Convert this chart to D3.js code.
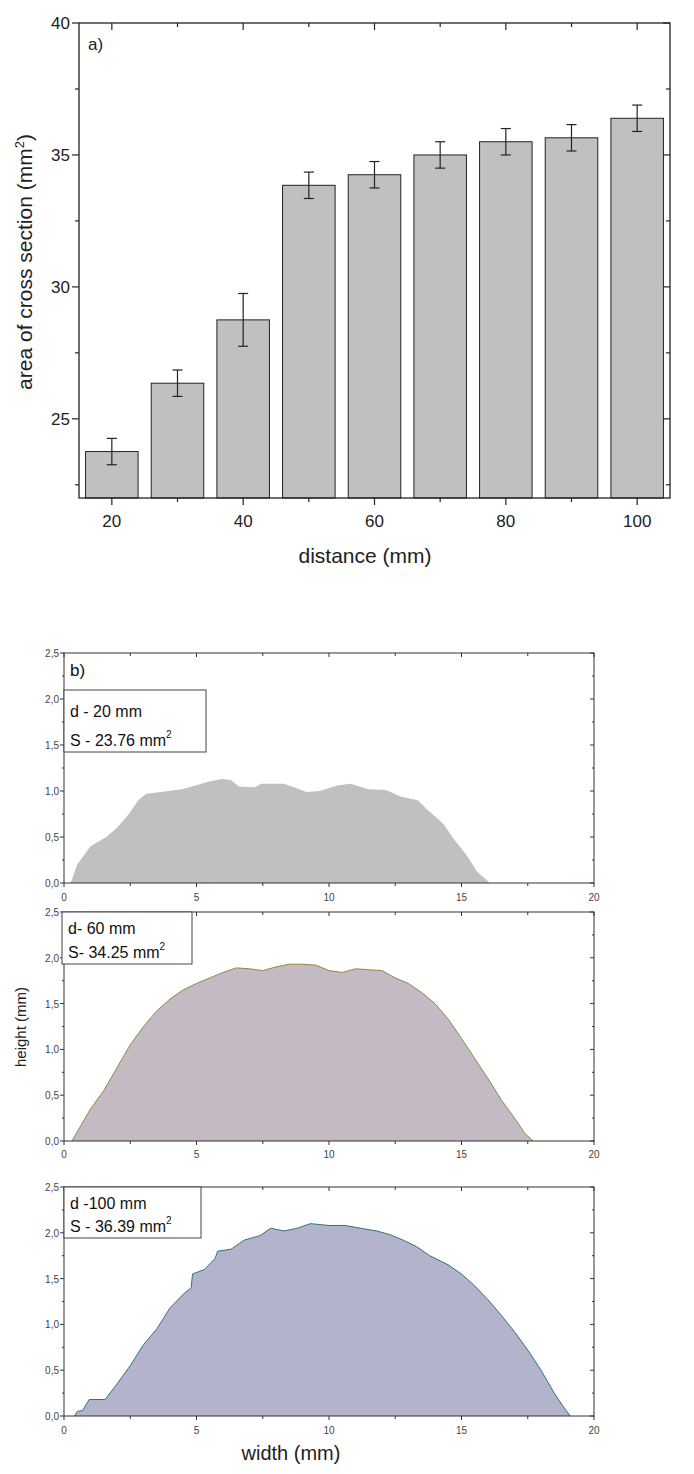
<!DOCTYPE html>
<html>
<head>
<meta charset="utf-8">
<script src="https://cdn.jsdelivr.net/npm/d3@7"></script>
<style>
  body { margin: 0; background: #fff; }
  text { font-family: "Liberation Sans", Arial, sans-serif; }
</style>
</head>
<body>
<svg id="chart" width="694" height="1474"></svg>
<script>
// bar chart data
const distances = [20, 30, 40, 50, 60, 70, 80, 90, 100];
const areas = [23.76, 26.35, 28.75, 33.85, 34.25, 35.0, 35.5, 35.65, 36.39];
const areaErr = [0.5, 0.5, 1.0, 0.5, 0.5, 0.5, 0.5, 0.5, 0.5];

// profile data (width mm, height mm)
const profile20 = [[0.25,0],[0.5,0.2],[1.0,0.4],[1.6,0.5],[2.0,0.6],[2.45,0.75],[2.8,0.9],[3.1,0.97],[3.95,1.0],[4.45,1.02],[4.95,1.06],[5.45,1.1],[5.95,1.13],[6.3,1.12],[6.6,1.05],[7.2,1.04],[7.45,1.08],[8.3,1.08],[8.6,1.05],[9.15,0.99],[9.65,1.0],[10.3,1.06],[10.8,1.08],[11.5,1.02],[12.15,1.01],[12.7,0.94],[13.35,0.9],[13.7,0.8],[14.1,0.7],[14.35,0.63],[14.7,0.48],[15.2,0.3],[15.6,0.12],[16.0,0.02],[16.05,0]];
const profile60 = [[0.3,0],[0.6,0.15],[1.0,0.35],[1.5,0.55],[2.0,0.8],[2.5,1.05],[3.0,1.25],[3.5,1.42],[4.0,1.55],[4.5,1.65],[5.0,1.72],[5.5,1.78],[6.0,1.84],[6.5,1.89],[7.0,1.88],[7.5,1.86],[8.0,1.9],[8.5,1.93],[9.0,1.93],[9.5,1.92],[10.0,1.86],[10.5,1.84],[11.0,1.88],[11.5,1.87],[12.0,1.86],[12.5,1.78],[13.0,1.72],[13.5,1.62],[14.0,1.5],[14.5,1.33],[15.0,1.12],[15.5,0.9],[16.0,0.68],[16.5,0.45],[17.0,0.25],[17.4,0.08],[17.7,0]];
const profile100 = [[0.4,0],[0.5,0.05],[0.7,0.06],[0.95,0.18],[1.55,0.18],[2.0,0.35],[2.5,0.55],[3.0,0.78],[3.5,0.95],[4.0,1.18],[4.5,1.33],[4.8,1.4],[4.85,1.55],[5.3,1.6],[5.7,1.72],[5.8,1.8],[6.3,1.82],[6.8,1.92],[7.4,1.97],[7.8,2.05],[8.3,2.02],[8.8,2.05],[9.3,2.1],[10.0,2.08],[10.6,2.08],[11.2,2.05],[11.8,2.02],[12.3,1.98],[12.8,1.92],[13.3,1.85],[13.8,1.75],[14.5,1.65],[15.0,1.55],[15.5,1.42],[16.0,1.27],[16.5,1.1],[17.0,0.92],[17.5,0.72],[18.0,0.5],[18.5,0.25],[18.8,0.12],[19.1,0]];

const svg = d3.select('#chart');

//---- panel a ----
const a = { l: 79, r: 670, t: 23, b: 498 };
const xA = d3.scaleLinear().domain([15, 105]).range([a.l, a.r]);
const yA = d3.scaleLinear().domain([22, 40]).range([a.b, a.t]);

svg.selectAll('.bar').data(distances).enter().append('rect')
  .attr('x', (d) => xA(d - 4))
  .attr('width', xA(8) - xA(0))
  .attr('y', (d, i) => yA(areas[i]))
  .attr('height', (d, i) => yA(22) - yA(areas[i]))
  .attr('fill', '#c0c0c0').attr('stroke', '#222').attr('stroke-width', 1);

// error bars
const eb = svg.append('g').attr('stroke', '#222').attr('stroke-width', 1.2);
distances.forEach((d, i) => {
  const x = xA(d), y1 = yA(areas[i] + areaErr[i]), y2 = yA(areas[i] - areaErr[i]);
  eb.append('line').attr('x1', x).attr('x2', x).attr('y1', y1).attr('y2', y2);
  eb.append('line').attr('x1', x - 5).attr('x2', x + 5).attr('y1', y1).attr('y2', y1);
  eb.append('line').attr('x1', x - 5).attr('x2', x + 5).attr('y1', y2).attr('y2', y2);
});

// frame
svg.append('rect').attr('x', a.l).attr('y', a.t).attr('width', a.r - a.l).attr('height', a.b - a.t)
  .attr('fill', 'none').attr('stroke', '#222').attr('stroke-width', 1.3);

const xTicksA = d3.range(20, 101, 10);
const yTicksA = d3.range(22.5, 40.1, 2.5);
const tk = svg.append('g').attr('stroke', '#222').attr('stroke-width', 1.2);
xTicksA.forEach(v => {
  const len = v % 20 === 0 ? 7 : 4;
  tk.append('line').attr('x1', xA(v)).attr('x2', xA(v)).attr('y1', a.b).attr('y2', a.b + len);
  tk.append('line').attr('x1', xA(v)).attr('x2', xA(v)).attr('y1', a.t).attr('y2', a.t + len);
});
yTicksA.forEach(v => {
  const len = v % 5 === 0 ? 7 : 4;
  tk.append('line').attr('x1', a.l - len).attr('x2', a.l).attr('y1', yA(v)).attr('y2', yA(v));
  tk.append('line').attr('x1', a.r - len).attr('x2', a.r).attr('y1', yA(v)).attr('y2', yA(v));
});
svg.selectAll('.xla').data(xTicksA.filter(v => v % 20 === 0)).enter().append('text')
  .attr('x', d => xA(d)).attr('y', 527).attr('text-anchor', 'middle')
  .attr('font-size', 17).attr('fill', '#222').text(d => d);
svg.selectAll('.yla').data([25, 30, 35, 40]).enter().append('text')
  .attr('x', a.l - 9).attr('y', d => yA(d) + 6).attr('text-anchor', 'end')
  .attr('font-size', 17).attr('fill', '#222').text(d => d);
svg.append('text').attr('x', 88).attr('y', 50).attr('font-size', 17).attr('fill', '#222').text('a)');
svg.append('text').attr('x', 365).attr('y', 563).attr('text-anchor', 'middle')
  .attr('font-size', 21).attr('fill', '#222').text('distance (mm)');
const yl = svg.append('text').attr('transform', 'translate(32,262) rotate(-90)')
  .attr('text-anchor', 'middle').attr('font-size', 21).attr('fill', '#222');
yl.append('tspan').text('area of cross section (mm');
yl.append('tspan').attr('font-size', 13).attr('dy', -8).text('2');
yl.append('tspan').attr('dy', 8).text(')');

//---- panels b ----
const panels = [
  { top: 653, bottom: 883, data: profile20, fill: '#c0c0c0', stroke: 'none', l1: 'd - 20 mm', l2: 'S - 23.76 mm', box: [64, 690, 142, 62], xlab: 901 },
  { top: 912, bottom: 1141, data: profile60, fill: '#c4bac3', stroke: '#8c8a40', l1: 'd- 60 mm', l2: 'S- 34.25 mm', box: [62, 912, 130, 52], xlab: 1158 },
  { top: 1187, bottom: 1416, data: profile100, fill: '#b3b3cc', stroke: '#2d7480', l1: 'd -100 mm', l2: 'S - 36.39 mm', box: [64, 1187, 137, 51], xlab: 1434 }
];
const bl = 64, br = 594;
const xB = d3.scaleLinear().domain([0, 20]).range([bl, br]);

panels.forEach(p => {
  const yB = d3.scaleLinear().domain([0, 2.5]).range([p.bottom, p.top]);
  const area = d3.area().x(d => xB(d[0])).y0(yB(0)).y1(d => yB(d[1]));
  svg.append('path').datum(p.data).attr('d', area).attr('fill', p.fill);
  if (p.stroke !== 'none') {
    const line = d3.line().x(d => xB(d[0])).y(d => yB(d[1]));
    svg.append('path').datum(p.data).attr('d', line).attr('fill', 'none')
      .attr('stroke', p.stroke).attr('stroke-width', 1);
  }
  svg.append('rect').attr('x', bl).attr('y', p.top).attr('width', br - bl).attr('height', p.bottom - p.top)
    .attr('fill', 'none').attr('stroke', '#333').attr('stroke-width', 1);
  const g = svg.append('g').attr('stroke', '#333').attr('stroke-width', 1);
  d3.range(0, 20.1, 2.5).forEach(v => {
    const len = v % 5 === 0 ? 4 : 3;
    g.append('line').attr('x1', xB(v)).attr('x2', xB(v)).attr('y1', p.bottom).attr('y2', p.bottom + len);
    g.append('line').attr('x1', xB(v)).attr('x2', xB(v)).attr('y1', p.top).attr('y2', p.top + len);
  });
  d3.range(0, 2.51, 0.25).forEach(v => {
    const len = Math.abs(v * 2 - Math.round(v * 2)) < 1e-6 ? 4 : 2;
    g.append('line').attr('x1', bl - len).attr('x2', bl).attr('y1', yB(v)).attr('y2', yB(v));
    g.append('line').attr('x1', br - len).attr('x2', br).attr('y1', yB(v)).attr('y2', yB(v));
  });
  svg.selectAll(null).data(d3.range(0, 21, 5)).enter().append('text')
    .attr('x', d => xB(d)).attr('y', p.xlab).attr('text-anchor', 'middle')
    .attr('font-size', 10).attr('fill', '#444').text(d => d);
  svg.selectAll(null).data(d3.range(0, 2.51, 0.5)).enter().append('text')
    .attr('x', bl - 5).attr('y', d => yB(d) + 4).attr('text-anchor', 'end')
    .attr('font-size', 10).attr('fill', '#444').text(d => d.toFixed(1).replace('.', ','));
  // legend box
  const [bx, by, bw, bh] = p.box;
  svg.append('rect').attr('x', bx).attr('y', by).attr('width', bw).attr('height', bh)
    .attr('fill', '#fff').attr('stroke', '#444').attr('stroke-width', 1);
  svg.append('text').attr('x', bx + 6).attr('y', by + bh / 2 - 4).attr('font-size', 16).attr('fill', '#111').text(p.l1);
  const t2 = svg.append('text').attr('x', bx + 6).attr('y', by + bh - 6).attr('font-size', 16).attr('fill', '#111');
  t2.append('tspan').text(p.l2);
  t2.append('tspan').attr('font-size', 10).attr('dy', -8).text('2');
});

svg.append('text').attr('x', 70).attr('y', 676).attr('font-size', 17).attr('fill', '#111').text('b)');
svg.append('text').attr('transform', 'translate(26,1027) rotate(-90)').attr('text-anchor', 'middle')
  .attr('font-size', 15).attr('fill', '#222').text('height (mm)');
svg.append('text').attr('x', 291).attr('y', 1460).attr('text-anchor', 'middle')
  .attr('font-size', 20).attr('fill', '#222').text('width (mm)');
</script>
</body>
</html>
